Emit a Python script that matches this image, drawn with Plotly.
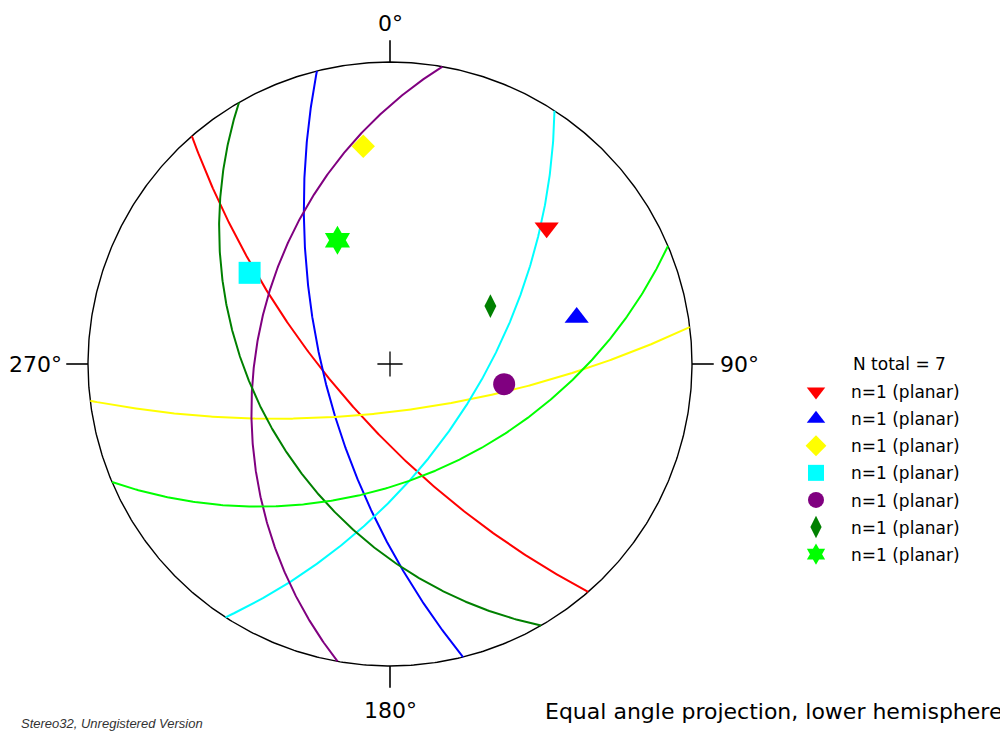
import numpy as np
import plotly.graph_objects as go

# Planes (dip direction / dip, degrees) read from the stereonet
dip_directions = [229, 256, 173, 123, 280, 240, 157]
dips = [69, 65, 72, 58, 42, 42, 48]
colors = ["#FF0000", "#0000FF", "#FFFF00", "#00FFFF", "#800080", "#008000", "#00FF00"]
symbols = ["triangle-down", "triangle-up", "diamond", "square", "circle", "diamond-tall", "hexagram"]
sizes = [21, 21, 18, 22, 22, 17, 22]
legend_labels = ["n=1 (planar)"] * 7
cardinal_az = [0, 90, 180, 270]
cardinal_labels = ["0°", "90°", "180°", "270°"]

FONT = "DejaVu Sans"
OFF = 8  # page body margin
CX, CY, R = 390 - OFF, 364 - OFF, 302
W, H = 1008 - OFF, 731 - OFF


def px(x):
    return (x - OFF) / W


def py(y):
    return 1 - (y - OFF) / H


def project(e, n, d):
    # equal-angle (stereographic), lower hemisphere
    return e / (1 + d), n / (1 + d)


fig = go.Figure()

# primitive circle
t = np.linspace(0, 2 * np.pi, 721)
fig.add_trace(go.Scatter(x=np.sin(t), y=np.cos(t), mode="lines",
                         line=dict(color="black", width=1.4), showlegend=False, hoverinfo="skip"))

# cardinal ticks
tx, ty = [], []
for az in cardinal_az:
    a = np.radians(az)
    tx += [np.sin(a), 1.072 * np.sin(a), None]
    ty += [np.cos(a), 1.072 * np.cos(a), None]
fig.add_trace(go.Scatter(x=tx, y=ty, mode="lines", line=dict(color="black", width=1.6),
                         showlegend=False, hoverinfo="skip"))

# centre cross
fig.add_trace(go.Scatter(x=[0], y=[0], mode="markers",
                         marker=dict(symbol="cross-thin", size=18, line=dict(color="black", width=1.3)),
                         showlegend=False, hoverinfo="skip"))

# great circles
for dd, dp, c in zip(dip_directions, dips, colors):
    strike = np.radians(dd - 90)
    ddr, dpr = np.radians(dd), np.radians(dp)
    s = np.array([np.sin(strike), np.cos(strike), 0.0])
    dv = np.array([np.sin(ddr) * np.cos(dpr), np.cos(ddr) * np.cos(dpr), np.sin(dpr)])
    u = np.linspace(0, np.pi, 400)
    v = np.outer(np.cos(u), s) + np.outer(np.sin(u), dv)
    x, y = project(v[:, 0], v[:, 1], np.clip(v[:, 2], 0, None))
    fig.add_trace(go.Scatter(x=x, y=y, mode="lines", line=dict(color=c, width=2),
                             showlegend=False, hoverinfo="skip"))

# poles
for i, (dd, dp, c, sym, sz, lab) in enumerate(zip(dip_directions, dips, colors, symbols, sizes, legend_labels)):
    tr = np.radians(dd + 180)
    pl = np.radians(90 - dp)
    e, n, d = np.sin(tr) * np.cos(pl), np.cos(tr) * np.cos(pl), np.sin(pl)
    x, y = project(e, n, d)
    fig.add_trace(go.Scatter(x=[x], y=[y], mode="markers", name=lab, legendgroup=f"g{i}",
                             marker=dict(symbol=sym, size=sz, color=c, line=dict(width=0))))

# cardinal labels
anchors = {0: ("center", "bottom", 1.08), 90: ("left", "middle", 1.085),
           180: ("center", "top", 1.10), 270: ("right", "middle", 1.08)}
for az, lab in zip(cardinal_az, cardinal_labels):
    xa, ya, rr = anchors[az]
    a = np.radians(az)
    fig.add_annotation(x=rr * np.sin(a), y=rr * np.cos(a), text=lab, showarrow=False,
                       xanchor=xa, yanchor=ya, font=dict(family=FONT, size=22, color="black"))

fig.add_annotation(x=px(851), y=py(364), xref="paper", yref="paper", text="N total = 7",
                   showarrow=False, xanchor="left", yanchor="middle",
                   font=dict(family=FONT, size=17, color="black"))
fig.add_annotation(x=px(1004), y=py(711), xref="paper", yref="paper",
                   text="Equal angle projection, lower hemisphere", showarrow=False,
                   xanchor="right", yanchor="middle", font=dict(family=FONT, size=22, color="black"))
fig.add_annotation(x=px(19), y=py(723), xref="paper", yref="paper",
                   text="<i>Stereo32, Unregistered Version</i>", showarrow=False,
                   xanchor="left", yanchor="middle",
                   font=dict(family="Liberation Sans", size=13, color="#333333"))

fig.update_xaxes(range=[-CX / R, (W - CX) / R], visible=False, domain=[0, 1])
fig.update_yaxes(range=[-(H - CY) / R, CY / R], visible=False, domain=[0, 1])
fig.update_layout(
    width=W, height=H, margin=dict(l=0, r=0, t=0, b=0),
    paper_bgcolor="white", plot_bgcolor="white",
    legend=dict(x=px(781), y=py(374), xanchor="left", yanchor="top",
                font=dict(family=FONT, size=17, color="black"), tracegroupgap=2,
                bgcolor="rgba(0,0,0,0)", itemsizing="trace", itemwidth=60),
    showlegend=True,
)
fig.write_html("out.html")
